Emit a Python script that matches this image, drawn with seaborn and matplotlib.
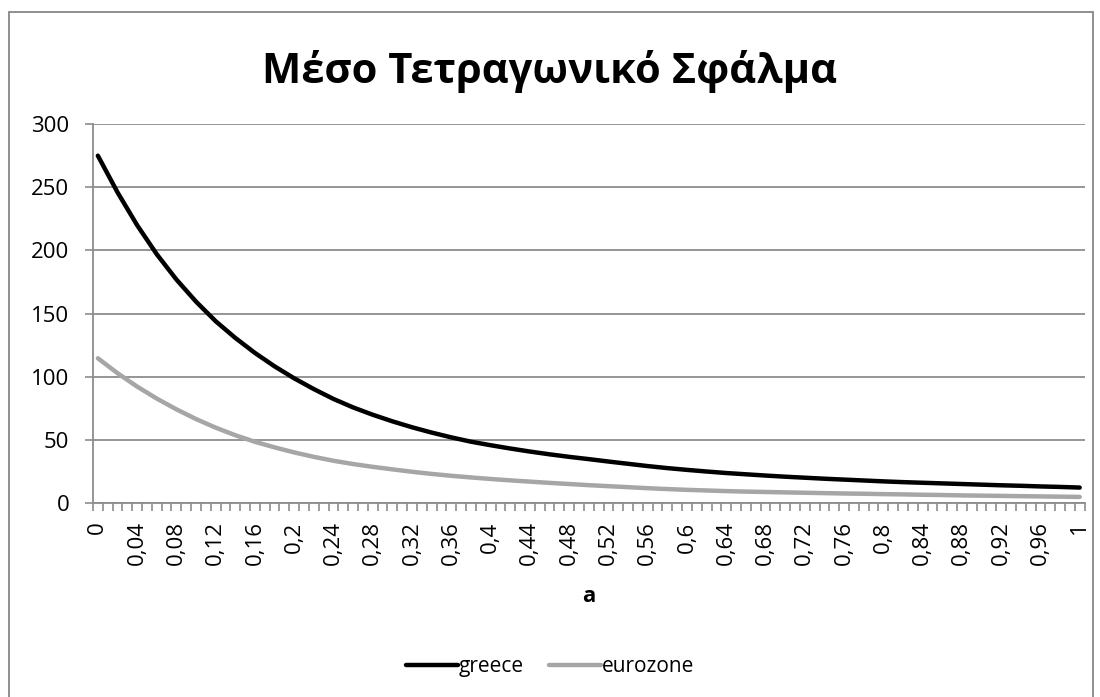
import numpy as np
import pandas as pd
import seaborn as sns
import matplotlib.pyplot as plt
from matplotlib.patches import Rectangle
from matplotlib.ticker import FixedLocator, FuncFormatter

# smoothing parameter a, step 0.02
a_values = [round(i * 0.02, 2) for i in range(51)]

greece = [275.0, 246.0, 220.0, 197.0, 177.0, 159.5, 144.0, 130.8, 118.9, 108.3,
          98.8, 90.3, 82.5, 75.8, 70.0, 64.8, 60.1, 55.9, 52.1, 48.7,
          45.9, 43.3, 40.9, 38.7, 36.7, 34.9, 33.0, 31.2, 29.4, 27.8,
          26.4, 25.1, 23.9, 22.9, 21.9, 21.0, 20.2, 19.4, 18.7, 18.0,
          17.3, 16.7, 16.2, 15.7, 15.2, 14.7, 14.2, 13.8, 13.3, 12.9,
          12.4]

eurozone = [114.7, 102.9, 92.3, 82.8, 74.3, 66.6, 59.8, 53.8, 48.6, 44.2,
            40.2, 36.7, 33.6, 31.0, 28.8, 26.8, 24.9, 23.2, 21.7, 20.4,
            19.2, 18.1, 17.1, 16.1, 15.2, 14.3, 13.5, 12.7, 11.9, 11.2,
            10.6, 10.1, 9.6, 9.2, 8.9, 8.6, 8.3, 8.0, 7.7, 7.5,
            7.2, 7.0, 6.7, 6.5, 6.2, 6.0, 5.8, 5.6, 5.4, 5.2,
            5.0]

series_names = ['greece', 'eurozone']
series_colors = ['#000000', '#A6A6A6']
y_ticks = [0, 50, 100, 150, 200, 250, 300]
x_label_ticks = [round(i * 0.04, 2) for i in range(26)]

df = pd.DataFrame({
    'a': a_values * 2,
    'mse': greece + eurozone,
    'series': ['greece'] * len(greece) + ['eurozone'] * len(eurozone),
})

sns.set_style('white')
plt.rcParams['font.family'] = ['Open Sans', 'DejaVu Sans']
plt.rcParams['text.color'] = 'black'

fig = plt.figure(figsize=(11, 6.97), dpi=100)
ax = fig.add_axes([0.0845, 0.278, 0.9015, 0.544])

# chart border like the spreadsheet frame
fig.patches.append(Rectangle((9 / 1100, -0.01), 1084 / 1100, 1 - 12 / 697 + 0.01,
                             transform=fig.transFigure, fill=False,
                             edgecolor='#868686', linewidth=1.3))

sns.lineplot(data=df, x='a', y='mse', hue='series', hue_order=series_names,
             palette=series_colors, linewidth=3.2, ax=ax, legend=False)
for ln in ax.get_lines():
    ln.set_solid_capstyle('round')
    ln.set_solid_joinstyle('round')

ax.set_xlim(-0.005, 1.005)
ax.set_ylim(0, 300)
ax.set_yticks(y_ticks)
ax.yaxis.grid(True, color='#8C8C8C', linewidth=1.3)
ax.set_axisbelow(True)

for side in ['top', 'right']:
    ax.spines[side].set_visible(False)
for side in ['left', 'bottom']:
    ax.spines[side].set_color('#8C8C8C')
    ax.spines[side].set_linewidth(1.3)

# category boundaries as tick marks, labels every 0.04
ax.xaxis.set_major_locator(FixedLocator(x_label_ticks))
ax.xaxis.set_major_formatter(FuncFormatter(lambda v, p: ('%g' % round(v, 2)).replace('.', ',')))
ax.xaxis.set_minor_locator(FixedLocator([-0.005 + 0.01 * k for k in range(102)]))
ax.tick_params(axis='x', which='major', length=0, pad=13, labelsize=16, labelrotation=90)
ax.tick_params(axis='x', which='minor', length=6, width=1.2, color='#8C8C8C', bottom=True)
ax.tick_params(axis='y', which='major', length=6, width=1.2, color='#8C8C8C', left=True,
               labelsize=16, pad=11)
for lbl in ax.get_yticklabels() + ax.get_xticklabels():
    lbl.set_color('#000000')

ax.set_xlabel('a', fontsize=16, fontweight='bold', labelpad=15, color='black')
ax.set_ylabel('')

fig.text(0.5, 0.898, 'Μέσο Τετραγωνικό Σφάλμα', ha='center', va='center',
         fontsize=30, fontweight='bold', color='black')

# legend at bottom
handles = [plt.Line2D([], [], color=c, linewidth=3.2, solid_capstyle='round') for c in series_colors]
leg = fig.legend(handles, series_names, loc='center', bbox_to_anchor=(0.5, 0.044), ncol=2,
                 frameon=False, fontsize=15, handlelength=2.5, handletextpad=0.05,
                 columnspacing=1.2)
for t in leg.get_texts():
    t.set_color('black')

fig.savefig('out.png', dpi=100)
